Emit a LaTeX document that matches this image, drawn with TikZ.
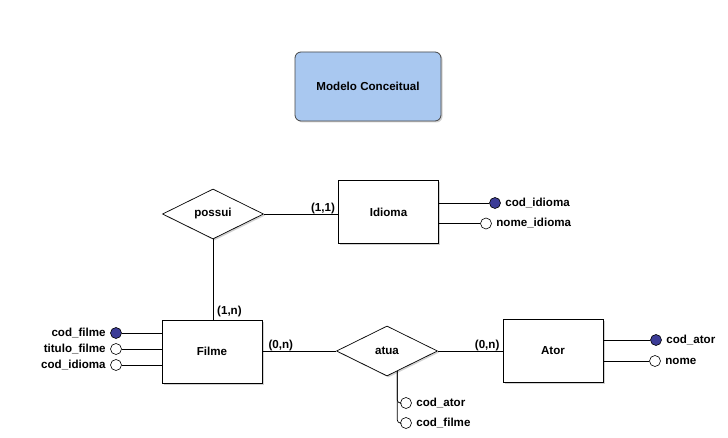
\documentclass[tikz,border=0pt]{standalone}
\usepackage{fontspec}
\setmainfont{Liberation Sans}
\usetikzlibrary{shapes.geometric,shadows}
\definecolor{titlefill}{RGB}{169,200,240}
\definecolor{keyblue}{RGB}{60,60,150}
\definecolor{edgegray}{RGB}{70,70,70}
\begin{document}
\begin{tikzpicture}[x=1pt,y=-1pt,
 every node/.style={font=\fontsize{11.6}{13.5}\selectfont\bfseries},
 shad/.style={drop shadow={shadow xshift=1.5pt,shadow yshift=-1.5pt,opacity=0.35}},
 entity/.style={draw=black, line width=0.8pt, fill=white, minimum width=100pt, minimum height=63pt, inner sep=0pt, shad},
 rel/.style={diamond, draw=black, line width=0.7pt, fill=white, minimum width=101pt, minimum height=50pt, inner sep=0pt, shad},
 keyattr/.style={circle, draw=black, fill=keyblue, minimum size=11pt, inner sep=0pt, line width=0.6pt},
 attr/.style={circle, draw=black, fill=white, minimum size=11pt, inner sep=0pt, line width=0.6pt},
 card/.style={inner sep=1pt},
 conn/.style={line width=0.7pt}
]
\useasboundingbox (0,0) rectangle (728,438);
\fill[white] (0,0) rectangle (728,438);

% title
\node[draw=edgegray, line width=0.8pt, fill=titlefill, rounded corners=6pt, minimum width=146pt, minimum height=69pt, shad] (title) at (368,86.5) {Modelo Conceitual};

% entities
\node[entity] (idioma) at (388.5,212) {Idioma};
\node[entity] (filme) at (212,351.5) {Filme};
\node[entity] (ator) at (553,350.5) {Ator};

% relationships
\node[rel] (possui) at (213,214) {possui};
\node[rel] (atua) at (387,351) {atua};

% relationship connectors
\draw[conn] (possui.east) -- (possui.east -| idioma.west);
\draw[conn] (possui.south) -- (possui.south |- filme.north);
\draw[conn] (filme.east |- atua.west) -- (atua.west);
\draw[conn] (atua.east) -- (atua.east -| ator.west);

% cardinalities
\node[card, anchor=south east] (c11) at ([xshift=-2pt,yshift=-1pt]possui.east -| idioma.west) {(1,1)};
\node[card, anchor=south west] (c1n) at ([xshift=4pt,yshift=1pt]filme.north) {(1,n)};
\node[card, anchor=south west] (c0nf) at ([xshift=5pt,yshift=-1pt]filme.east |- atua.west) {(0,n)};
\node[card, anchor=south east] (c0na) at ([xshift=-2pt,yshift=-1pt]atua.east -| ator.west) {(0,n)};

% Idioma attributes
\node[keyattr, label={[label distance=1pt]right:cod\_idioma}] (ci) at (495,203) {};
\node[attr, label={[label distance=1pt]right:nome\_idioma}] (ni) at (486,223.5) {};
\draw[conn] (idioma.east |- ci) -- (ci.west);
\draw[conn] (idioma.east |- ni) -- (ni.west);

% Filme attributes
\node[keyattr, label={[label distance=1pt]left:cod\_filme}] (cf) at (116,333) {};
\node[attr, label={[label distance=1pt]left:titulo\_filme}] (tf) at (116,349) {};
\node[attr, label={[label distance=1pt]left:cod\_idioma}] (cif) at (116,365) {};
\draw[conn] (cf.east) -- (cf -| filme.west);
\draw[conn] (tf.east) -- (tf -| filme.west);
\draw[conn] (cif.east) -- (cif -| filme.west);

% Ator attributes
\node[keyattr, label={[label distance=1pt]right:cod\_ator}] (ca) at (656,340) {};
\node[attr, label={[label distance=1pt]right:nome}] (na) at (655,361) {};
\draw[conn] (ator.east |- ca) -- (ca.west);
\draw[conn] (ator.east |- na) -- (na.west);

% atua attributes
\node[attr, label={[label distance=1pt]right:cod\_ator}] (aca) at (406,403) {};
\node[attr, label={[label distance=1pt]right:cod\_filme}] (acf) at (406,423) {};
\draw[conn, rounded corners=3pt] (atua.-63.4) |- (aca.west);
\draw[conn, rounded corners=3pt] (atua.-63.4) |- (acf.west);
\end{tikzpicture}
\end{document}
